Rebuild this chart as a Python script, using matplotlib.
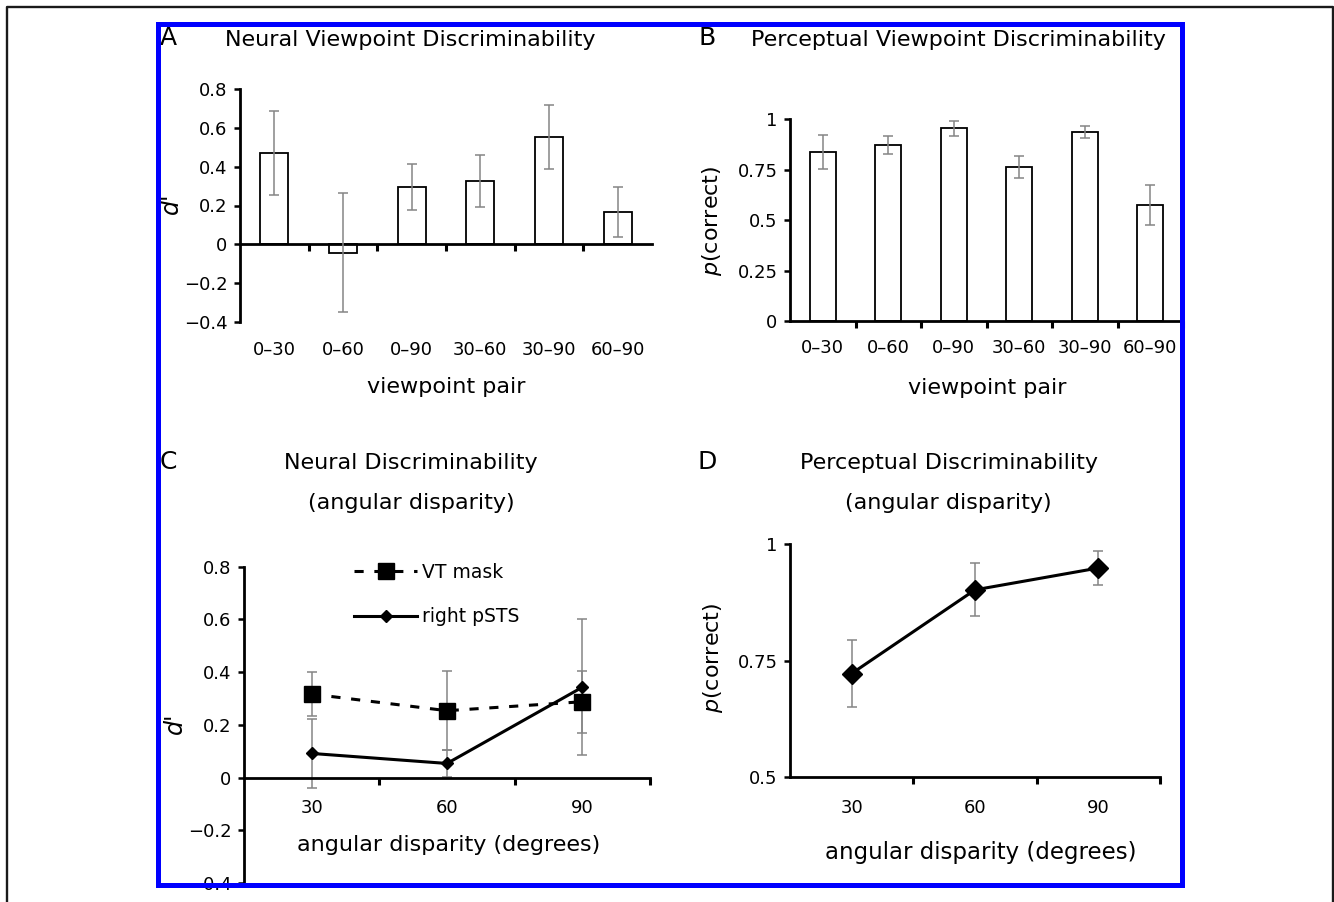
import numpy as np
import matplotlib
matplotlib.use('Agg')
from matplotlib import pyplot as plt
from matplotlib.patches import Rectangle
from matplotlib.lines import Line2D

# --- data ---
pairs = ['0\u201330', '0\u201360', '0\u201390', '30\u201360', '30\u201390', '60\u201390']
neural_d = [0.469, -0.043, 0.297, 0.326, 0.552, 0.166]
neural_err = [0.217, 0.309, 0.118, 0.136, 0.166, 0.131]
percept_p = [0.837, 0.873, 0.954, 0.764, 0.936, 0.574]
percept_err = [0.085, 0.045, 0.037, 0.055, 0.031, 0.100]

disparity = ['30', '60', '90']
vt_d = [0.317, 0.254, 0.288]
vt_err = [0.083, 0.150, 0.117]
psts_d = [0.092, 0.054, 0.343]
psts_err = [0.131, 0.050, 0.258]
pc_disp = [0.722, 0.902, 0.949]
pc_disp_err = [0.072, 0.057, 0.036]

W, H = 1334, 902
plt.rcParams['font.family'] = ['DejaVu Sans']
plt.rcParams['axes.linewidth'] = 2.0
plt.rcParams['mathtext.fontset'] = 'dejavusans'

fig = plt.figure(figsize=(W/100, H/100), dpi=100)

def fx(px):
    return px / W

def fy(py):
    return 1 - py / H

def make_ax(left, top, right, bottom):
    ax = fig.add_axes([fx(left), fy(bottom), (right-left)/W, (bottom-top)/H])
    ax.spines['top'].set_visible(False)
    ax.spines['right'].set_visible(False)
    ax.set_facecolor('none')
    ax.tick_params(axis='y', direction='out', length=4, width=1.8, labelsize=13, pad=5)
    ax.tick_params(axis='x', direction='out', length=5, width=2.2, labelbottom=False)
    return ax

def cat_labels(ax, labels, y, coords, off):
    for i, lab in enumerate(labels):
        ax.annotate(lab, xy=(i, y), xycoords=('data', coords), xytext=(0, -off),
                    textcoords='offset points', ha='center', va='center', fontsize=13,
                    annotation_clip=False)

grey = '#858585'
x6 = np.arange(len(pairs))
x3 = np.arange(len(disparity))

# A: neural viewpoint discriminability
axA = make_ax(240, 89.3, 652, 321.7)
axA.bar(x6, neural_d, width=0.41, color='white', edgecolor='black', linewidth=1.3, zorder=2)
axA.errorbar(x6, neural_d, yerr=neural_err, fmt='none', ecolor=grey, elinewidth=1.1,
             capsize=3.8, capthick=1.1, zorder=3)
axA.set_xlim(-0.5, 5.5)
axA.set_ylim(-0.4, 0.8)
axA.spines['bottom'].set_position(('data', 0))
axA.set_xticks(x6[:-1] + 0.5)
axA.set_yticks([-0.4, -0.2, 0, 0.2, 0.4, 0.6, 0.8],
               ['\u22120.4', '\u22120.2', '0', '0.2', '0.4', '0.6', '0.8'])
cat_labels(axA, pairs, 0, 'axes fraction', 20.4)

# B: perceptual viewpoint discriminability
axB = make_ax(790, 119, 1183, 321)
axB.bar(x6, percept_p, width=0.40, color='white', edgecolor='black', linewidth=1.3, zorder=2)
axB.errorbar(x6, percept_p, yerr=percept_err, fmt='none', ecolor=grey, elinewidth=1.1,
             capsize=3.8, capthick=1.1, zorder=3)
axB.set_xlim(-0.5, 5.5)
axB.set_ylim(0, 1)
axB.set_xticks(x6 + 0.5)
axB.set_yticks([0, 0.25, 0.5, 0.75, 1], ['0', '0.25', '0.5', '0.75', '1'])
cat_labels(axB, pairs, 0, 'axes fraction', 19.4)

# C: neural discriminability vs angular disparity
axC = make_ax(244, 566.7, 650, 883.2)
axC.errorbar(x3, vt_d, yerr=vt_err, fmt='none', ecolor=grey, elinewidth=1.1,
             capsize=3.6, capthick=1.1, zorder=2)
axC.errorbar(x3, psts_d, yerr=psts_err, fmt='none', ecolor=grey, elinewidth=1.1,
             capsize=3.6, capthick=1.1, zorder=2)
axC.plot(x3, vt_d, color='black', linestyle=(0, (3, 3.5)), linewidth=2.2, marker='s',
         markersize=12, label='VT mask', zorder=3)
axC.plot(x3, psts_d, color='black', linestyle='-', linewidth=2.2, marker='D',
         markersize=6, label='right pSTS', zorder=3)
axC.set_xlim(-0.5, 2.5)
axC.set_ylim(-0.4, 0.8)
axC.spines['bottom'].set_position(('data', 0))
axC.set_xticks(x3 + 0.5)
axC.set_yticks([-0.4, -0.2, 0, 0.2, 0.4, 0.6, 0.8],
               ['\u22120.4', '\u22120.2', '0', '0.2', '0.4', '0.6', '0.8'])
cat_labels(axC, disparity, 0, 'data', 21.8)
axC.legend(loc='upper left', bbox_to_anchor=(0.271, 1.013), frameon=False, fontsize=13.5,
           handlelength=3.36, handletextpad=0.25, borderpad=0, borderaxespad=0,
           labelspacing=1.37)

# D: perceptual discriminability vs angular disparity
axD = make_ax(790, 544.3, 1160, 776.7)
axD.errorbar(x3, pc_disp, yerr=pc_disp_err, fmt='none', ecolor=grey, elinewidth=1.1,
             capsize=3.6, capthick=1.1, zorder=2)
axD.plot(x3, pc_disp, color='black', linewidth=2.2, marker='D', markersize=10, zorder=3)
axD.set_xlim(-0.5, 2.5)
axD.set_ylim(0.5, 1)
axD.set_xticks(x3 + 0.5)
axD.set_yticks([0.5, 0.75, 1], ['0.5', '0.75', '1'])
cat_labels(axD, disparity, 0.5, 'data', 22.5)

# Titles, panel letters and axis labels
tkw = dict(ha='center', va='center', fontsize=16)
fig.text(fx(410), fy(40), 'Neural Viewpoint Discriminability', **tkw)
fig.text(fx(958), fy(40), 'Perceptual Viewpoint Discriminability', **tkw)
fig.text(fx(411), fy(463), 'Neural Discriminability', **tkw)
fig.text(fx(411), fy(503), '(angular disparity)', **tkw)
fig.text(fx(949), fy(463), 'Perceptual Discriminability', **tkw)
fig.text(fx(948), fy(503), '(angular disparity)', **tkw)

lkw = dict(ha='center', va='center', fontsize=18)
fig.text(fx(168), fy(38), 'A', **lkw)
fig.text(fx(707), fy(38), 'B', **lkw)
fig.text(fx(168), fy(462), 'C', **lkw)
fig.text(fx(707), fy(462), 'D', **lkw)

fig.text(fx(446.5), fy(387), 'viewpoint pair', **tkw)
fig.text(fx(987.5), fy(388), 'viewpoint pair', **tkw)
fig.text(fx(449), fy(845), 'angular disparity (degrees)', **tkw)
fig.text(fx(981), fy(852), 'angular disparity (degrees)', ha='center', va='center', fontsize=16.5)

fig.text(fx(171), fy(203), "d'", rotation=90, ha='center', va='center', fontsize=17, style='italic')
fig.text(fx(175), fy(723), "d'", rotation=90, ha='center', va='center', fontsize=17, style='italic')
fig.text(fx(712), fy(221), r'$\it{p}$(correct)', rotation=90, ha='center', va='center', fontsize=16)
fig.text(fx(713), fy(658), r'$\it{p}$(correct)', rotation=90, ha='center', va='center', fontsize=16)

# Blue panel frame and outer black frame
fig.add_artist(Rectangle((fx(157.5), fy(885)), (1181.7 - 157.5) / W, (885 - 24) / H,
                         transform=fig.transFigure, fill=False, edgecolor='#0000ff',
                         linewidth=3.6, zorder=10))
fig.add_artist(Line2D([fx(7), fx(7), fx(1332.5), fx(1332.5)], [fy(905), fy(7), fy(7), fy(905)],
                      transform=fig.transFigure, color='#1a1a1a', linewidth=1.7, zorder=10))

fig.savefig('out.png', dpi=100)
